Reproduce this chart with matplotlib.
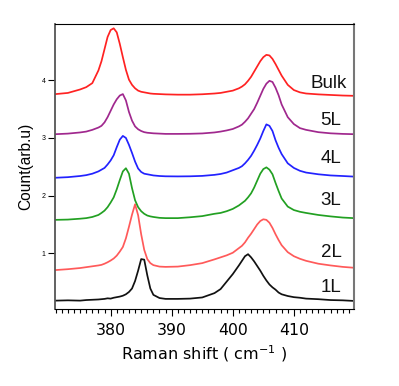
import matplotlib
matplotlib.use("Agg")
import matplotlib.pyplot as plt
from matplotlib.ticker import MultipleLocator

# raman shift grid (cm-1), denser around the peaks
shift = [371, 373, 375, 376, 377, 378, 378.5, 379, 379.5, 380, 380.5, 381, 381.5,
         382, 382.5, 383, 383.5, 384, 384.5, 385, 385.5, 386, 386.5, 387, 388, 389,
         391, 393, 395, 397,
         398, 399, 400, 401, 401.5, 402, 402.5, 403, 403.5, 404, 404.5, 405, 405.5,
         406, 406.5, 407, 407.5, 408, 409, 410, 411, 412, 414, 416, 418, 419.8]

# spectra (already offset vertically)
bulk = [3.76, 3.78, 3.84, 3.88, 3.95, 4.17, 4.33, 4.54, 4.75, 4.87, 4.90, 4.83, 4.63,
        4.40, 4.18, 4.01, 3.92, 3.86, 3.82, 3.80, 3.79, 3.78, 3.77, 3.765, 3.76, 3.755,
        3.75, 3.75, 3.757, 3.77,
        3.78, 3.80, 3.82, 3.86, 3.89, 3.93, 3.99, 4.06, 4.15, 4.24, 4.33, 4.40, 4.44,
        4.43, 4.37, 4.28, 4.18, 4.08, 3.92, 3.83, 3.79, 3.77, 3.755, 3.745, 3.735, 3.73]
l5 = [3.065, 3.075, 3.095, 3.11, 3.14, 3.18, 3.21, 3.27, 3.36, 3.47, 3.58, 3.67, 3.735,
      3.76, 3.65, 3.45, 3.30, 3.20, 3.15, 3.12, 3.10, 3.09, 3.085, 3.08, 3.075, 3.07,
      3.07, 3.072, 3.078, 3.095,
      3.11, 3.13, 3.155, 3.20, 3.23, 3.28, 3.34, 3.42, 3.50, 3.61, 3.73, 3.85, 3.94,
      3.99, 3.97, 3.87, 3.74, 3.58, 3.36, 3.24, 3.17, 3.14, 3.10, 3.08, 3.07, 3.065]
l4 = [2.31, 2.32, 2.34, 2.355, 2.38, 2.42, 2.45, 2.48, 2.54, 2.61, 2.70, 2.84, 2.97,
      3.035, 3.0, 2.88, 2.74, 2.59, 2.47, 2.41, 2.38, 2.37, 2.36, 2.35, 2.34, 2.335,
      2.333, 2.335, 2.342, 2.36,
      2.375, 2.40, 2.44, 2.48, 2.51, 2.56, 2.62, 2.69, 2.78, 2.88, 2.99, 3.12, 3.235,
      3.21, 3.12, 2.96, 2.83, 2.72, 2.56, 2.48, 2.43, 2.40, 2.37, 2.35, 2.34, 2.33]
l3 = [1.58, 1.585, 1.60, 1.61, 1.63, 1.665, 1.70, 1.74, 1.80, 1.88, 1.97, 2.11, 2.27,
      2.42, 2.475, 2.38, 2.13, 1.92, 1.80, 1.73, 1.685, 1.655, 1.64, 1.63, 1.615, 1.61,
      1.61, 1.625, 1.645, 1.685,
      1.70, 1.73, 1.77, 1.83, 1.87, 1.91, 1.97, 2.04, 2.14, 2.26, 2.38, 2.46, 2.49,
      2.45, 2.37, 2.22, 2.08, 1.95, 1.81, 1.75, 1.72, 1.70, 1.665, 1.64, 1.62, 1.61]
l2 = [0.71, 0.725, 0.745, 0.76, 0.775, 0.79, 0.80, 0.82, 0.845, 0.875, 0.91, 0.96, 1.03,
      1.11, 1.26, 1.46, 1.67, 1.85, 1.66, 1.33, 1.06, 0.90, 0.83, 0.795, 0.77, 0.765,
      0.77, 0.795, 0.83, 0.895,
      0.93, 0.965, 1.01, 1.09, 1.13, 1.19, 1.27, 1.34, 1.42, 1.50, 1.56, 1.59, 1.58,
      1.53, 1.44, 1.33, 1.23, 1.14, 1.02, 0.95, 0.905, 0.87, 0.82, 0.79, 0.765, 0.75]
l1 = [0.18, 0.185, 0.18, 0.19, 0.195, 0.20, 0.205, 0.21, 0.22, 0.215, 0.23, 0.24, 0.25,
      0.265, 0.29, 0.33, 0.39, 0.52, 0.70, 0.90, 0.89, 0.62, 0.39, 0.28, 0.225, 0.21,
      0.21, 0.215, 0.235, 0.31,
      0.38, 0.51, 0.64, 0.79, 0.87, 0.95, 0.985, 0.93, 0.86, 0.78, 0.70, 0.61, 0.53,
      0.46, 0.41, 0.37, 0.32, 0.29, 0.26, 0.24, 0.23, 0.215, 0.205, 0.19, 0.185, 0.175]

names = ["1L", "2L", "3L", "4L", "5L", "Bulk"]
spectra = [l1, l2, l3, l4, l5, bulk]
colors = ["#111111", "#ff5a5a", "#22a022", "#2222ff", "#a0288e", "#ff2222"]
label_x = [417.8, 417.8, 417.8, 417.8, 417.8, 418.6]
label_y = [0.41, 1.02, 1.92, 2.65, 3.295, 3.95]

fig = plt.figure(figsize=(3.99, 3.86), dpi=100)
ax = fig.add_axes([0.138, 0.1995, 0.7485, 0.7391])

for y, c in zip(spectra, colors):
    ax.plot(shift, y, color=c, lw=1.25, solid_joinstyle="round")

for name, lx, ly in zip(names, label_x, label_y):
    ax.text(lx, ly, name, ha="right", va="center", fontsize=13.5,
            family="Liberation Sans", color="#111111")

ax.set_xlim(370.9, 419.8)
ax.set_ylim(0.035, 4.98)

ax.set_xticks([380, 390, 400, 410])
ax.xaxis.set_minor_locator(MultipleLocator(1))
ax.tick_params(axis="x", which="major", length=5, width=0.8, labelsize=11.3, pad=5)
ax.tick_params(axis="x", which="minor", length=3, width=0.8)

ax.set_yticks([1, 2, 3, 4])
ax.tick_params(axis="y", which="major", length=5, width=0.8, labelsize=5, pad=2)
for lab in ax.get_yticklabels():
    lab.set_family("Liberation Sans")

ax.set_xlabel("Raman shift ( cm$^{-1}$ )", fontsize=11.5, labelpad=4)
ax.set_ylabel("Count(arb.u)", fontsize=11.2, family="Liberation Sans", labelpad=6)

ax.spines["top"].set_color("black")
ax.spines["bottom"].set_color("black")
ax.spines["left"].set_color("#555555")
ax.spines["right"].set_color("#777777")
ax.spines["left"].set_linewidth(1.3)
ax.spines["right"].set_linewidth(1.5)

fig.savefig("out.png", dpi=100)
